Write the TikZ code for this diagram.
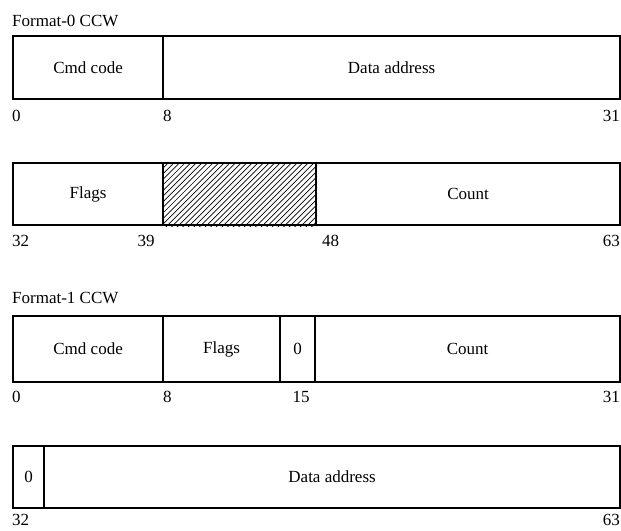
\documentclass[tikz,border=0pt]{standalone}
\usepackage{fontspec}
\setmainfont{Liberation Serif}
\begin{document}
\begin{tikzpicture}[x=1pt,y=-1pt,
  font=\fontsize{17}{20}\selectfont,
  field/.style={draw, line width=2.2pt, rectangle, inner sep=0pt, anchor=north west, minimum height=63pt},
  lbl/.style={inner sep=0pt},
  hatchline/.style={line width=0.7pt}]
\useasboundingbox (0,0) rectangle (621,530);

% Format-0 CCW
\node[lbl, anchor=west] (t0) at (12,21) {Format-0 CCW};
\node[field, minimum width=150pt] (a1) at (12,35) {Cmd code};
\node[field, minimum width=457pt] (a2) at (162,35) {Data address};
\node[lbl, anchor=west] (la0) at (12,116) {0};
\node[lbl, anchor=west] (la8) at (163,116) {8};
\node[lbl, anchor=east] (la31) at (620,116) {31};

\node[field, minimum width=150pt, minimum height=62pt] (b1) at (12,162) {Flags};
\node[field, minimum width=153pt, minimum height=62pt] (b2) at (162,162) {};
\node[field, minimum width=304pt, minimum height=62pt] (b3) at (315,162) {Count};
\begin{scope}
  \clip (b2.south west) rectangle (b2.north east);
  \foreach \i in {90,95.6,...,330} {
    \draw[hatchline] (\i,230) -- ++(75,-75);
  }
\end{scope}
\node[lbl, anchor=west] (lb32) at (12,241) {32};
\node[lbl] (lb39) at (146,241) {39};
\node[lbl, anchor=west] (lb48) at (322,241) {48};
\node[lbl, anchor=east] (lb63) at (620,241) {63};

% Format-1 CCW
\node[lbl, anchor=west] (t1) at (12,298) {Format-1 CCW};
\node[field, minimum width=150pt, minimum height=66pt] (c1) at (12,315) {Cmd code};
\node[field, minimum width=117pt, minimum height=66pt] (c2) at (162,315) {Flags};
\node[field, minimum width=35pt, minimum height=66pt] (c3) at (279,315) {0};
\node[field, minimum width=305pt, minimum height=66pt] (c4) at (314,315) {Count};
\node[lbl, anchor=west] (lc0) at (12,397) {0};
\node[lbl, anchor=west] (lc8) at (163,397) {8};
\node[lbl] (lc15) at (301,397) {15};
\node[lbl, anchor=east] (lc31) at (620,397) {31};

\node[field, minimum width=31pt, minimum height=62pt] (d1) at (12,445) {0};
\node[field, minimum width=576pt, minimum height=62pt] (d2) at (43,445) {Data address};
\node[lbl, anchor=west] (ld32) at (12,520) {32};
\node[lbl, anchor=east] (ld63) at (620,520) {63};
\end{tikzpicture}
\end{document}
